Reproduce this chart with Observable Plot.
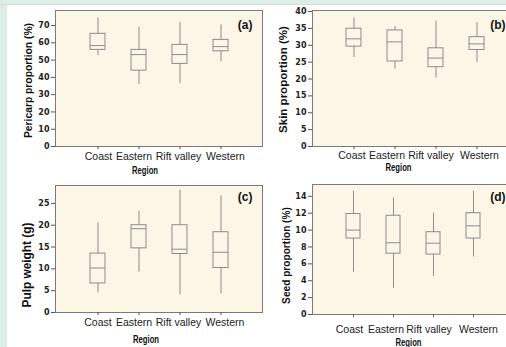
<!DOCTYPE html>
<html>
<head>
<meta charset="utf-8">
<script src="https://cdn.jsdelivr.net/npm/d3@7"></script>
<script src="https://cdn.jsdelivr.net/npm/@observablehq/plot@0.6"></script>
<style>
  html, body { margin: 0; padding: 0; }
  body { width: 506px; height: 347px; background: #ffffff; position: relative; overflow: hidden; }
  .mint-left { position: absolute; left: 0; top: 0; width: 7px; height: 347px; background: #dcefe6; }
  .mint-top { position: absolute; left: 0; top: 0; width: 506px; height: 4px; background: #dcefe6; border-bottom: 1px solid #d6dcd8; }
  .panel { position: absolute; }
  .panel svg { overflow: visible; max-width: none !important; display: block; }
</style>
</head>
<body>
<div class="mint-left"></div>
<div class="mint-top"></div>
<div id="pa" class="panel"></div>
<div id="pb" class="panel"></div>
<div id="pc" class="panel"></div>
<div id="pd" class="panel"></div>
<script>
// ---- data ----
const regions = ["Coast", "Eastern", "Rift valley", "Western"];

const pericarpLow  = [52.6, 35.8, 36.5, 49.1];
const pericarpQ1   = [55.9, 43.9, 47.8, 55.1];
const pericarpMed  = [58.4, 53.2, 53.2, 57.8];
const pericarpQ3   = [65.2, 55.9, 58.8, 61.7];
const pericarpHigh = [74.5, 69.0, 71.8, 70.4];

const skinLow  = [26.4, 23.0, 20.3, 24.8];
const skinQ1   = [29.6, 25.2, 23.5, 28.6];
const skinMed  = [31.9, 31.0, 26.2, 30.4];
const skinQ3   = [34.9, 34.4, 29.1, 32.4];
const skinHigh = [38.1, 35.5, 37.1, 36.7];

const pulpLow  = [4.5, 9.25, 4.05, 4.3];
const pulpQ1   = [6.65, 14.7, 13.4, 10.2];
const pulpMed  = [10.2, 19.2, 14.5, 13.8];
const pulpQ3   = [13.5, 20.0, 20.0, 18.4];
const pulpHigh = [20.5, 23.2, 28.0, 26.7];

const seedLow  = [5.0, 3.1, 4.5, 6.8];
const seedQ1   = [9.0, 7.2, 7.1, 9.0];
const seedMed  = [10.0, 8.5, 8.45, 10.5];
const seedQ3   = [11.9, 11.7, 9.75, 12.0];
const seedHigh = [14.6, 13.8, 12.0, 14.6];

const pericarpTicks = [0, 10, 20, 30, 40, 50, 60, 70];
const skinTicks = [0, 5, 10, 15, 20, 25, 30, 35, 40];
const pulpTicks = [0, 5, 10, 15, 20, 25];
const seedTicks = [0, 2, 4, 6, 8, 10, 12, 14];

const xTitle = "Region";

// ---- drawing ----
const cream = "#fcf6e6";
const boxGray = "#8c8c8c";

function rowsOf(low, q1, med, q3, high) {
  return regions.map((r, i) => ({region: r, low: low[i], q1: q1[i], med: med[i], q3: q3[i], high: high[i]}));
}

function findText(svg, label) {
  return Array.from(svg.querySelectorAll("text")).find(t => t.textContent === label);
}

// scale a text element's font so its rendered length matches a target length
function fitText(svg, label, target) {
  const el = findText(svg, label);
  if (!el) return;
  const len = el.getComputedTextLength();
  if (!len) return;
  const fs = parseFloat(el.getAttribute("font-size") || getComputedStyle(el).fontSize);
  el.setAttribute("font-size", (fs * target / len).toFixed(2));
}

// condense a text horizontally to a target length (narrow font look)
function condenseText(svg, label, target) {
  const el = findText(svg, label);
  if (!el) return;
  el.setAttribute("textLength", target);
  el.setAttribute("lengthAdjust", "spacingAndGlyphs");
}

function panel(o) {
  const rows = rowsOf(o.low, o.q1, o.med, o.q3, o.high);
  const xLabels = regions.map((r, i) =>
    Plot.text([r], {x: d => d, frameAnchor: "bottom", dx: o.labelShift[i], dy: o.tickLabelDy,
                    textAnchor: "middle", lineAnchor: "middle", fontSize: 10.5, fill: "#222"}));
  const svg = Plot.plot({
    width: o.width,
    height: o.height,
    marginLeft: 55,
    marginRight: o.marginRight,
    marginTop: 10,
    marginBottom: o.marginBottom,
    style: {background: "transparent", fontFamily: "'Liberation Sans', Arial, sans-serif", color: "#333", overflow: "visible"},
    x: {type: "band", domain: regions, paddingInner: 0.64, paddingOuter: 0.82, label: null},
    y: {domain: o.domain, label: null},
    marks: [
      Plot.frame({fill: cream, stroke: null}),
      Plot.ruleX(rows, {x: "region", y1: "low", y2: "high", stroke: boxGray, strokeWidth: 1}),
      Plot.barY(rows, {x: "region", y1: "q1", y2: "q3", fill: cream, stroke: boxGray, strokeWidth: 1}),
      Plot.tickY(rows, {x: "region", y: "med", stroke: boxGray, strokeWidth: 1}),
      Plot.frame({stroke: "#7a7a7a", strokeWidth: 1}),
      Plot.axisY({ticks: o.ticks, tickSize: 4, tickPadding: 2, fontSize: 8, fontWeight: "bold",
                  fontFamily: "'DejaVu Sans', sans-serif", stroke: "#555", fill: "#222", label: null}),
      Plot.axisX({tickSize: 3, stroke: "#555", fill: "none", label: null}),
      ...xLabels,
      Plot.text([o.label], {frameAnchor: "left", rotate: -90, dx: o.labelDx, dy: o.labelDy, textAnchor: "middle",
                            lineAnchor: "middle", fontWeight: "bold", fontSize: 10, fill: "#111"}),
      Plot.text([xTitle], {frameAnchor: "bottom", dx: o.regionDx, dy: o.regionDy, textAnchor: "middle", lineAnchor: "middle",
                           fontWeight: "bold", fontSize: 10.5, fill: "#111"}),
      Plot.text([o.letter], {frameAnchor: "top-right", dx: o.letterDx, dy: o.letterDy, textAnchor: "end",
                             lineAnchor: "top", fontWeight: "bold", fontSize: 12, fill: "#111"})
    ]
  });
  const host = document.getElementById(o.id);
  host.style.left = o.left + "px";
  host.style.top = o.top + "px";
  host.style.width = o.width + "px";
  host.style.height = o.height + "px";
  host.appendChild(svg);
  fitText(svg, o.label, o.labelLen);
  condenseText(svg, xTitle, 26);
}

panel({id: "pa", left: 0, top: 0, width: 275, height: 180, marginRight: 13, marginBottom: 34,
  low: pericarpLow, q1: pericarpQ1, med: pericarpMed, q3: pericarpQ3, high: pericarpHigh,
  domain: [0, 78.7], ticks: pericarpTicks, label: "Pericarp proportion (%)", labelLen: 115, labelDx: -27, labelDy: 2,
  labelShift: [0.5, -5, -1.5, 4.5], tickLabelDy: 10, regionDx: -14, regionDy: 24.5,
  letter: "(a)", letterDx: -10, letterDy: 10});

panel({id: "pb", left: 257, top: 0, width: 274, height: 180, marginRight: 13, marginBottom: 34,
  low: skinLow, q1: skinQ1, med: skinMed, q3: skinQ3, high: skinHigh,
  domain: [0, 40.3], ticks: skinTicks, label: "Skin proportion (%)", labelLen: 107, labelDx: -29, labelDy: 1,
  labelShift: [-2, -8, -5, 2.5], tickLabelDy: 9.5, regionDx: -17, regionDy: 21,
  letter: "(b)", letterDx: -13, letterDy: 10});

panel({id: "pc", left: 0, top: 175, width: 275, height: 172, marginRight: 13, marginBottom: 35,
  low: pulpLow, q1: pulpQ1, med: pulpMed, q3: pulpQ3, high: pulpHigh,
  domain: [0, 29.1], ticks: pulpTicks, label: "Pulp weight (g)", labelLen: 85, labelDx: -28, labelDy: 16,
  labelShift: [0, -5, -1.5, 4], tickLabelDy: 10.5, regionDx: -13, regionDy: 27,
  letter: "(c)", letterDx: -10, letterDy: 7});

panel({id: "pd", left: 257, top: 174, width: 270, height: 173, marginRight: 13, marginBottom: 33,
  low: seedLow, q1: seedQ1, med: seedMed, q3: seedQ3, high: seedHigh,
  domain: [0, 15.4], ticks: seedTicks, label: "Seed proportion (%)", labelLen: 97, labelDx: -26, labelDy: 6,
  labelShift: [-4, -7.5, -4.5, 5], tickLabelDy: 15, regionDx: -5, regionDy: 28.5,
  letter: "(d)", letterDx: -9, letterDy: 8});
</script>
</body>
</html>
